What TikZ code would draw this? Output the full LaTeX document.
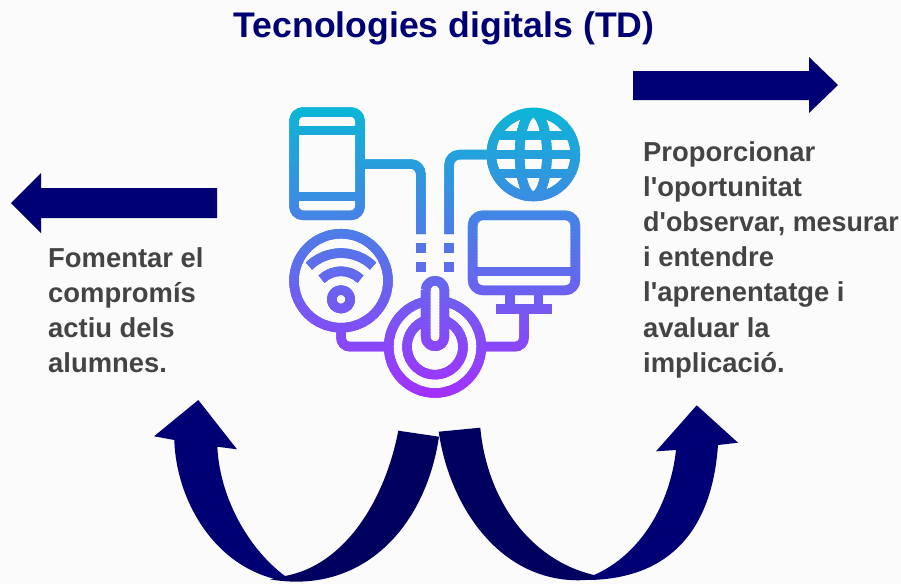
\documentclass[tikz,border=0pt]{standalone}
\usepackage{fontspec}
\setmainfont{Liberation Sans}[Ligatures=TeXOff]
\definecolor{bgc}{HTML}{FBFBFC}
\definecolor{navy}{HTML}{000074}
\definecolor{navyd}{HTML}{00005F}
\definecolor{txtc}{HTML}{444444}
\definecolor{iconA}{HTML}{0CB6D6}
\definecolor{iconB}{HTML}{A62EFF}
\newcommand{\iconstrokes}{%
 % phone
 \draw[rounded corners=9pt] (294,112) rectangle (360,215.3);
 \draw (294,130.7) -- (360,130.7) (294,196.3) -- (360,196.3);
 % phone wire and dashes
 \draw[rounded corners=10pt] (360,164) -- (420.8,164) -- (420.8,234);
 \draw (420.8,243.3) -- (420.8,252.7) (420.8,262) -- (420.8,271.7);
 % globe wire and dashes
 \draw[rounded corners=10pt] (486.7,154.7) -- (449.2,154.7) -- (449.2,234);
 \draw (449.2,243.3) -- (449.2,252.7) (449.2,262) -- (449.2,271.7);
 % globe
 \draw (533.3,154.5) circle[radius=42];
 \draw (533.3,154.5) ellipse[x radius=13.7,y radius=42];
 \draw (495.7,135.7) -- (570.9,135.7) (491.3,154.7) -- (575.3,154.7) (495.7,173.3) -- (570.9,173.3);
 % monitor
 \draw[rounded corners=10pt] (472.7,215.3) rectangle (575.3,290.3);
 \draw (472.7,271.7) -- (575.3,271.7);
 \draw (510,290) -- (510,309) (538.3,290) -- (538.3,309);
 \draw (496,309) -- (552.3,309);
 \draw[rounded corners=9pt] (524,309) -- (524,346.7) -- (485,346.7);
 % wifi
 \draw (341,280.7) circle[radius=47];
 \draw (341,299.3) circle[radius=9.3];
 \draw (341,299.3) ++(-46:46.2) arc[start angle=-46,end angle=-134,radius=46.2];
 \draw (341,299.3) ++(-46:28) arc[start angle=-46,end angle=-134,radius=28];
 \draw[rounded corners=9pt] (341,327) -- (341,346.7) -- (385,346.7);
 % power
 \draw (435,346.7) ++(-78.4:46.3) arc[start angle=-78.4,end angle=258.4,radius=46.3];
 \draw (435,346.7) ++(-70.6:28) arc[start angle=-70.6,end angle=250.6,radius=28];
 \draw (425.7,290) -- (425.7,337) arc[start angle=180,end angle=0,radius=9.3] -- (444.3,290) arc[start angle=0,end angle=-180,radius=9.3];
}
\begin{document}
\begin{tikzpicture}[x=1pt,y=-1pt,
  txt/.style={anchor=north west,align=left,text=txtc,font=\bfseries\fontsize{27.4}{35.2}\selectfont,inner sep=0pt},
  flatarrow/.style={fill=navy,draw=none},
  iconline/.style={line width=9.5pt,draw=ic,line cap=butt,line join=round}]
\fill[bgc] (0,0) rectangle (901,584);
\useasboundingbox (0,0) rectangle (901,584);
\node[anchor=center,text=navy,font=\bfseries\fontsize{35.6}{40}\selectfont,inner sep=0pt] (title) at (444,28) {Tecnologies digitals (TD)};
% straight arrows
\fill[flatarrow] (633,71) -- (809,71) -- (809,57) -- (838,85) -- (809,113) -- (809,100) -- (633,100) -- cycle;
\fill[flatarrow] (217,188) -- (41,188) -- (41,173) -- (11,203) -- (41,233) -- (41,218) -- (217,218) -- cycle;
% texts
\node[txt] (lefttext) at (48,247) {Fomentar el\\compromís\\actiu dels\\alumnes.};
\node[txt] (righttext) at (643,141) {Proporcionar\\l'oportunitat\\\scalebox{0.98}[1]{d'observar, mesurar}\\i entendre\\l'aprenentatge i\\avaluar la\\implicació.};
% icon, sliced for a vertical colour gradient
\foreach \yy in {104,107,...,398}{
  \pgfmathtruncatemacro\pc{max(0,min(100,(\yy-107)/291*100))}
  \colorlet{ic}{iconB!\pc!iconA}
  \begin{scope}[iconline]
    \clip (280,\yy) rectangle (590,\yy+6);
    \iconstrokes
  \end{scope}
}
% curved arrows: light parts
\fill[navy] (285,576) .. controls (250,550) and (220,500) .. (217.3,446.7) -- (237,449.3) -- (198.3,400) -- (154,436.3) -- (174.3,440) .. controls (176,500) and (215,570) .. (285,581) -- cycle;
\fill[navy] (594,575) .. controls (640,555) and (670,505) .. (676,450) -- (656,451.3) -- (696.7,405.3) -- (738,442.7) -- (718,445) .. controls (712,530) and (670,578) .. (590,580) -- cycle;
% curved arrows: dark parts
\fill[navyd] (398.3,430.7) -- (439,436.7) .. controls (425,530) and (360,595) .. (270,579.3) -- (285,576) .. controls (345,565) and (385,500) .. (398.3,430.7) -- cycle;
\fill[navyd] (438.7,431.7) -- (480.3,427.7) .. controls (487,500) and (530,560) .. (594,575) -- (594,579.3) .. controls (505,590) and (450,510) .. (438.7,431.7) -- cycle;
\end{tikzpicture}
\end{document}
